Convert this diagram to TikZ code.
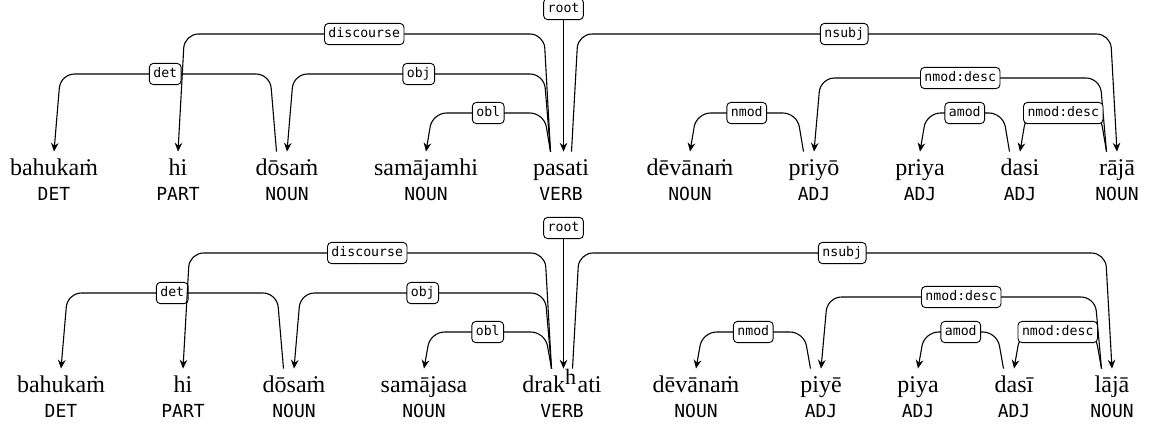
\documentclass[tikz,border=0pt]{standalone}
\usepackage{fontspec}
\setmainfont{Liberation Serif}
\setmonofont{DejaVu Sans Mono}
\usetikzlibrary{arrows.meta, calc, positioning}

\tikzset{
	word/.style={anchor=base, inner xsep=0pt, inner ysep=3.5pt, text height=8pt, text depth=2.5pt, font=\fontsize{12}{14}\selectfont},
	tag/.style={anchor=base, inner sep=0pt, font=\fontsize{9}{11}\selectfont\ttfamily},
	lab/.style={draw, fill=white, rounded corners=2pt, line width=.45pt, inner xsep=2pt, inner ysep=2.1pt, text height=5pt, text depth=1.4pt, font=\fontsize{6.6}{8}\selectfont\ttfamily},
	arc/.style={line width=.55pt, rounded corners=7pt, -{Stealth[length=4.4pt,width=3.8pt]}}
}

\begin{document}
\begin{tikzpicture}[x=.5pt, y=-.5pt]
		\useasboundingbox (0,0) rectangle (1151,430);
		% first sentence
		\foreach \x/\n/\w/\pos in {54/bahu1/bahukaṁ/DET, 178/hi1/hi/PART, 287/dosam1/dōsaṁ/NOUN, 426/samaj1/samājamhi/NOUN, 561/pasati1/pasati/VERB, 690/devan1/dēvānaṁ/NOUN, 814/priyo1/priyō/ADJ, 920/priya1/priya/ADJ, 1020/dasi1/dasi/ADJ, 1117/raja1/rājā/NOUN}{
			\node[word] (\n) at (\x,175) {\w};
			\node[tag] (tag\n) at (\x,200) {\pos};
		}
		% second sentence
		\foreach \x/\n/\w/\pos in {61/bahu2/bahukaṁ/DET, 183/hi2/hi/PART, 294/dosam2/dōsaṁ/NOUN, 424/samaj2/samājasa/NOUN, 562/drak2/drak\raisebox{4pt}{\fontsize{11}{11}\selectfont h}\hspace{.8pt}ati/VERB, 696/devan2/dēvānaṁ/NOUN, 821/piye2/piyē/ADJ, 918/piya2/piya/ADJ, 1014/dasi2/dasī/ADJ, 1112/laja2/lājā/NOUN}{
			\node[word] (\n) at (\x,392) {\w};
			\node[tag] (tag\n) at (\x,417) {\pos};
		}
		
		\node[lab] (root1) at (563.5,9) {root};
		\draw[arc] (root1) -- (root1 |- pasati1.north);
		\node[lab] (root2) at (563.5,228) {root};
		\draw[arc] (root2) -- (root2 |- drak2.north);
		
		% head/dependent/side/height/relation
		\foreach \hw/\dw/\side/\lvl/\rel [evaluate=\side as \offb using 5.25*\side, evaluate=\side as \offh using 8.5*\side, evaluate=\side as \offd using -3.25*\side] in {dosam1/bahu1/-1/74/det, pasati1/hi1/-1/34/discourse, pasati1/dosam1/-1/74/obj, pasati1/samaj1/-1/113/obl, pasati1/raja1/1/34/nsubj, priyo1/devan1/-1/113/nmod, raja1/priyo1/-1/78/nmod:desc, dasi1/priya1/-1/113/amod, raja1/dasi1/-1/113/nmod:desc,
			dosam2/bahu2/-1/293/det, drak2/hi2/-1/253/discourse, drak2/dosam2/-1/293/obj, drak2/samaj2/-1/332/obl, drak2/laja2/1/253/nsubj, piye2/devan2/-1/332/nmod, laja2/piye2/-1/297/nmod:desc, dasi2/piya2/-1/332/amod, laja2/dasi2/-1/332/nmod:desc}{
			\coordinate (lv) at (0,\lvl);
			\draw[arc] ([xshift=\offb pt]\hw.north) -- ([xshift=\offh pt]\hw.north |- lv)
				-- node[lab] (\hw-\dw) {\rel} ([xshift=\offd pt]\dw.north |- lv) -- (\dw.north);
		}
		
	\end{tikzpicture}
\end{document}
